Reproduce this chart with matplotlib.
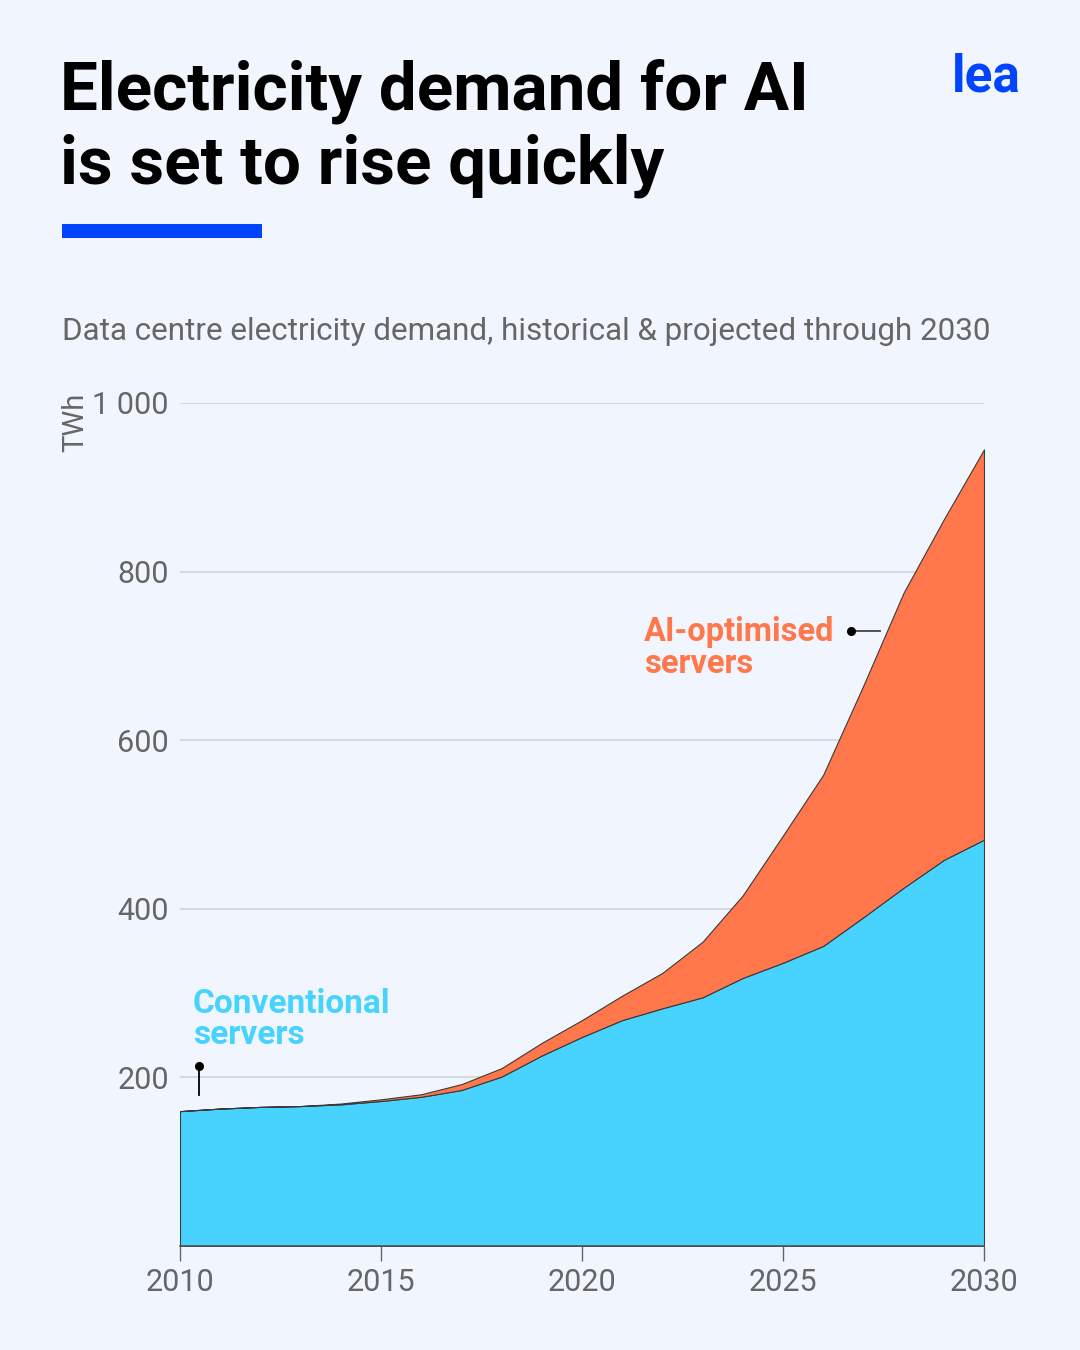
import matplotlib
matplotlib.use("Agg")
import matplotlib.pyplot as plt
from matplotlib.patches import Rectangle
from matplotlib.ticker import FuncFormatter

# --- data (TWh) ---
years = list(range(2010, 2031))
conventional = [160, 163, 165, 166, 168, 172, 177, 185, 201, 226, 248,
                268, 282, 295, 318, 336, 356, 390, 425, 458, 482]
ai_optimised = [0, 0, 0, 0, 1, 2, 3, 7, 10, 15, 20,
                29, 42, 66, 98, 151, 203, 275, 350, 404, 463]
yticks = [200, 400, 600, 800, 1000]
xticks = [2010, 2015, 2020, 2025, 2030]

BG = "#F1F6FE"
BLUE = "#48D3FF"
ORANGE = "#FF774A"
GRAY = "#666666"
BRAND = "#0044FF"

plt.rcParams["font.family"] = ["Roboto", "DejaVu Sans"]

fig = plt.figure(figsize=(10.8, 13.5), dpi=100, facecolor=BG)
W, H = 1080, 1350


def fx(px):
    return px / W


def fy(py):
    return 1 - py / H


ax = fig.add_axes([fx(180), fy(1246), fx(984) - fx(180), fy(403) - fy(1246)])
ax.set_facecolor(BG)

ax.stackplot(years, conventional, ai_optimised, colors=[BLUE, ORANGE],
             edgecolor="#3a3a3a", linewidth=0.8, zorder=3)

ax.set_xlim(2010, 2030)
ax.set_ylim(0, 1000)
ax.set_yticks(yticks)
ax.set_xticks(xticks)
ax.yaxis.set_major_formatter(FuncFormatter(lambda v, p: f"{int(v):,}".replace(",", " ")))
ax.grid(axis="y", color="#CDD1DA", linewidth=1.1, zorder=1)
ax.tick_params(axis="y", length=0, pad=8, labelsize=22, labelcolor=GRAY)
ax.tick_params(axis="x", length=11, width=1, color=GRAY, pad=5,
               labelsize=22, labelcolor=GRAY)
for s in ["top", "right", "left"]:
    ax.spines[s].set_visible(False)
ax.spines["bottom"].set_color("#555555")
ax.spines["bottom"].set_linewidth(1.2)
ax.spines["bottom"].set_zorder(4)

# unit label
fig.text(fx(75), fy(393), "TWh", rotation=90, ha="center", va="top",
         fontsize=21, color=GRAY)

# series labels with leader lines
ax.text(2021.54, 747, "AI-optimised\nservers", color=ORANGE, fontsize=23.5,
        fontweight="bold", ha="left", va="top", linespacing=0.97)
ax.plot([2026.69, 2027.42], [729.5, 729.5], color="#444444", lw=1.3,
        clip_on=False, zorder=5)
ax.plot([2026.69], [729.5], "o", color="black", ms=5.5, zorder=6)

ax.text(2010.32, 306, "Conventional\nservers", color=BLUE, fontsize=24,
        fontweight="bold", ha="left", va="top", linespacing=0.97)
ax.plot([2010.47, 2010.47], [213.5, 179], color="black", lw=1.3, zorder=5)
ax.plot([2010.47], [213.5], "o", color="black", ms=5.5, zorder=6)

# headline, accent bar, subtitle, logo
fig.text(fx(60), fy(110), "Electricity demand for AI",
         fontsize=48.5, fontweight="bold", color="black", ha="left",
         va="baseline")
fig.text(fx(60), fy(183), "is set to rise quickly",
         fontsize=48.5, fontweight="bold", color="black", ha="left",
         va="baseline")
fig.patches.append(Rectangle((fx(62), fy(238)), fx(262) - fx(62),
                             fy(224) - fy(238), transform=fig.transFigure,
                             facecolor=BRAND, edgecolor="none"))
fig.text(fx(62), fy(340),
         "Data centre electricity demand, historical & projected through 2030",
         fontsize=22.6, color=GRAY, ha="left", va="baseline")
fig.text(fx(1021), fy(92), "lea", fontsize=37, fontweight="bold",
         color=BRAND, ha="right", va="baseline")

fig.savefig("out.png", dpi=100, facecolor=BG)
